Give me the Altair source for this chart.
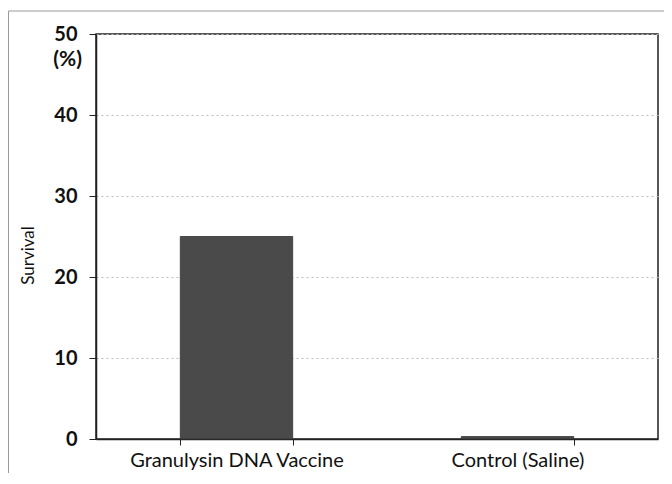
import altair as alt
import pandas as pd

categories = ["Granulysin DNA Vaccine", "Control (Saline)"]
survival = [25, 0.3]
y_ticks = [0, 10, 20, 30, 40, 50]
unit_label = "(%)"
y_title = "Survival"

df = pd.DataFrame({"group": categories, "survival": survival})

FONT = "Lato"

yscale = alt.Scale(domain=[0, 50], nice=False, zero=True)

bars = alt.Chart(df).mark_bar(color="#4a4a4a", stroke="#333333", strokeWidth=0.8).encode(
    x=alt.X(
        "group:N",
        sort=categories,
        scale=alt.Scale(paddingInner=0.6, paddingOuter=0.3),
        axis=alt.Axis(
            title=None,
            labelAngle=0,
            labelFont=FONT,
            labelFontSize=20,
            labelColor="#111111",
            labelPadding=5,
            labelLimit=400,
            tickBand="extent",
            ticks=True,
            tickSize=6,
            tickColor="#222222",
            domainColor="#222222",
            domainWidth=1.5,
            grid=False,
        ),
    ),
    y=alt.Y(
        "survival:Q",
        scale=yscale,
        axis=alt.Axis(
            title=y_title,
            titleFont=FONT,
            titleFontSize=17,
            titleFontWeight="normal",
            titleColor="#111111",
            titleX=-59,
            titleY=221,
            values=y_ticks,
            labelFont=FONT,
            labelFontSize=20,
            labelFontWeight="bold",
            labelColor="#111111",
            labelPadding=12,
            tickSize=7,
            tickColor="#222222",
            domainColor="#222222",
            domainWidth=1.5,
            grid=True,
            gridColor="#bbbbbb",
            gridDash=[2, 3],
            gridWidth=1,
        ),
    ),
)

unit = alt.Chart(alt.Data(values=[{"t": unit_label}])).mark_text(
    font=FONT, fontSize=21, fontWeight="bold", align="right", baseline="middle",
    color="#111111", dy=26,
).encode(
    x=alt.value(-14),
    y=alt.datum(50, scale=yscale),
    text="t:N",
)

frame = alt.Chart(alt.Data(values=[{}])).mark_rect(
    fillOpacity=0, stroke="#9a9a9a", strokeWidth=1, clip=False
).encode(
    x=alt.value(-87.5), x2=alt.value(600), y=alt.value(-23), y2=alt.value(470)
)

chart = alt.layer(frame, bars, unit).properties(
    width=562,
    height=405,
    autosize=alt.AutoSizeParams(type="none"),
    padding={"left": 88, "top": 26, "right": 6, "bottom": 34},
    background="white",
).configure_view(
    stroke="#222222", strokeWidth=1.5
)

chart.save("out.html", embed_options={"renderer": "svg", "actions": False})
